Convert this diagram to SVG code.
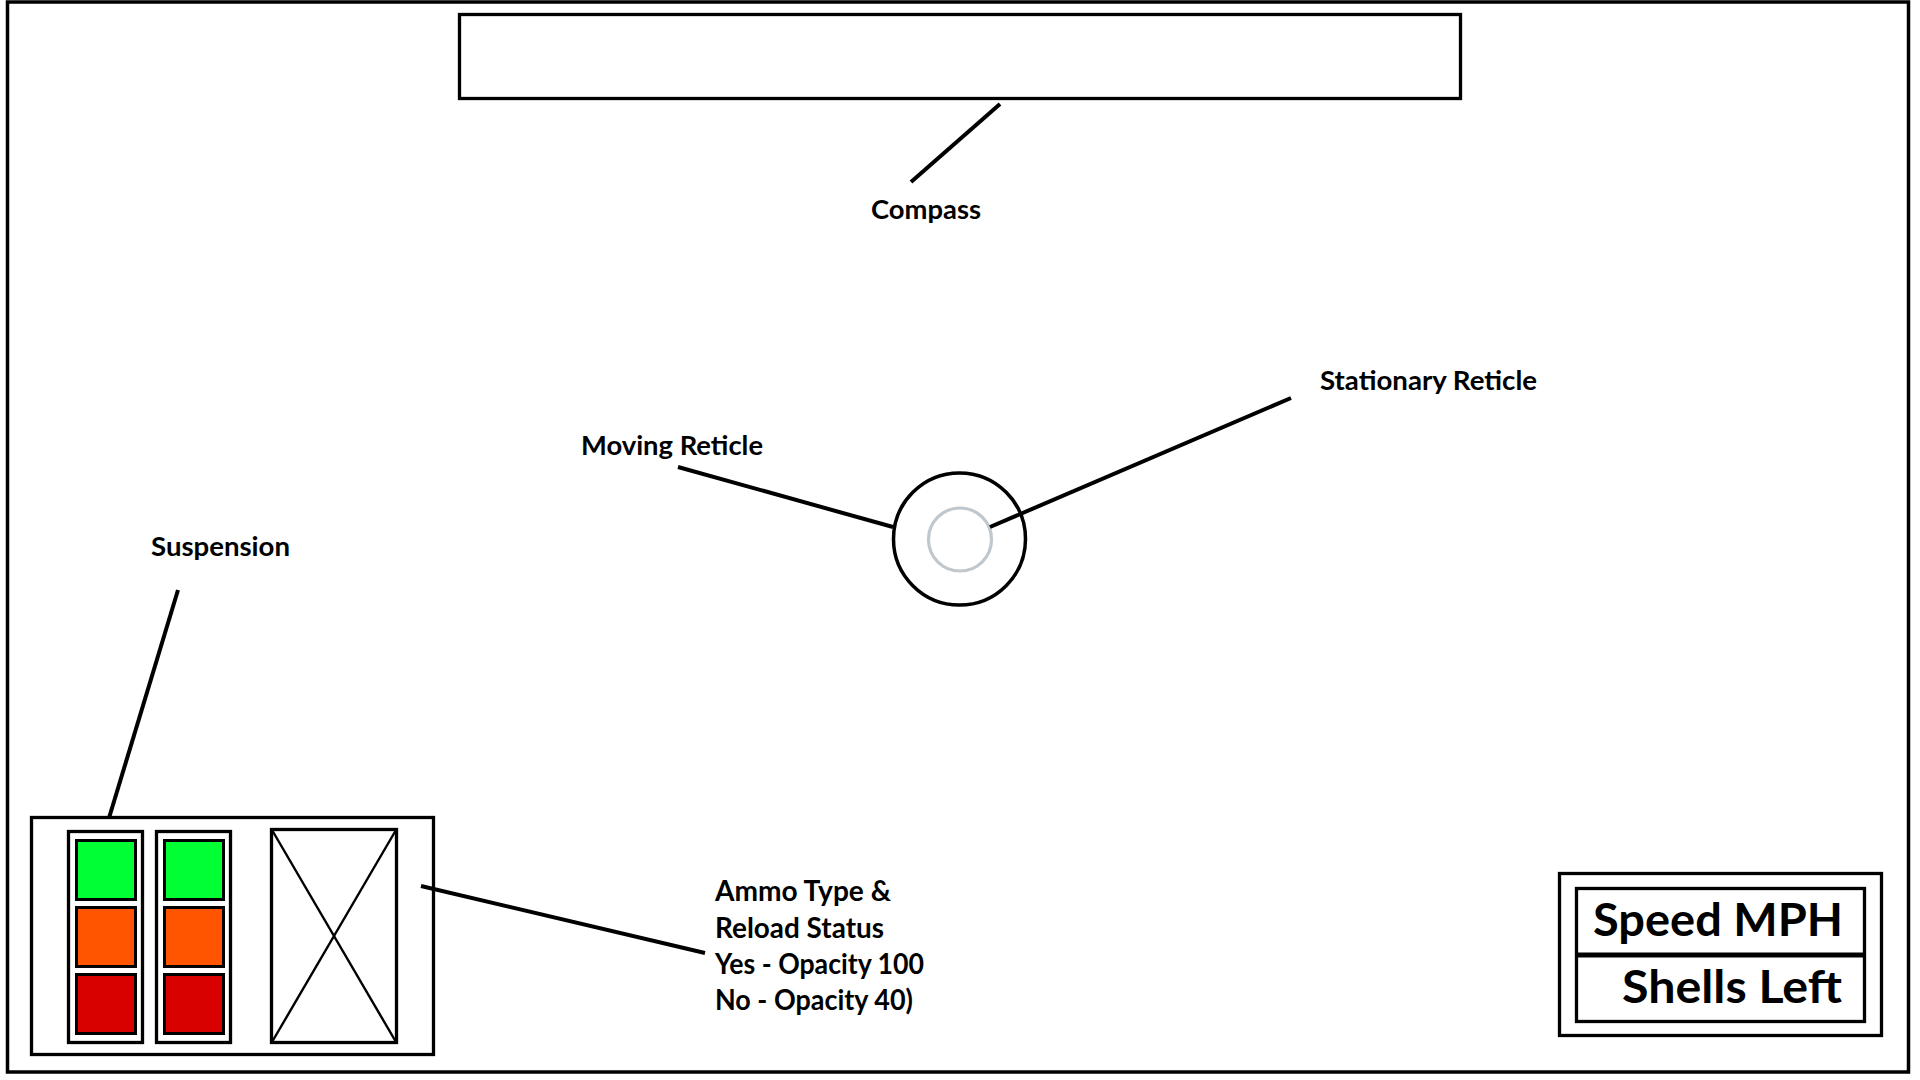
<svg xmlns="http://www.w3.org/2000/svg" width="1920" height="1080" viewBox="0 0 1920 1080">
<style>
.box{fill:none;stroke:#000;stroke-width:3.3}
.con{stroke:#000;stroke-width:4;fill:none;stroke-linecap:butt}
.lbl{font-family:Lato,"Open Sans","Liberation Sans",sans-serif;font-weight:bold;font-size:27px;fill:#000}
.ammo{font-family:Lato,"Open Sans","Liberation Sans",sans-serif;font-weight:bold;font-size:29px;fill:#000}
.big{font-family:Lato,"Open Sans","Liberation Sans",sans-serif;font-weight:bold;font-size:46px;fill:#000}
.g{fill:#00FF33;stroke:#000;stroke-width:3}
.o{fill:#FF5500;stroke:#000;stroke-width:3}
.r{fill:#D90000;stroke:#000;stroke-width:3}
</style>
<rect width="1920" height="1080" fill="#fff"/>
<rect id="frame" fill="none" stroke="#000" stroke-width="3.5" x="7.5" y="2" width="1901" height="1070"/>

<g id="compass">
<rect class="box" x="459.5" y="14.5" width="1001" height="84"/>
</g>

<g id="reticle">
<circle cx="959.5" cy="539" r="66" fill="none" stroke="#000" stroke-width="3.5"/>
<circle id="stationary-reticle" cx="960" cy="539.5" r="31.5" fill="none" stroke="#C0C8CE" stroke-width="3.2"/>
</g>

<g id="suspension">
<rect class="box" x="31.5" y="817.5" width="402" height="237"/>
<rect class="box" x="68.5" y="831.5" width="74" height="211"/>
<rect class="g" x="76.5" y="840.5" width="59" height="59"/>
<rect class="o" x="76.5" y="907.5" width="59" height="59"/>
<rect class="r" x="76.5" y="974.5" width="59" height="59"/>
<rect class="box" x="156.5" y="831.5" width="74" height="211"/>
<rect class="g" x="164.5" y="840.5" width="59" height="59"/>
<rect class="o" x="164.5" y="907.5" width="59" height="59"/>
<rect class="r" x="164.5" y="974.5" width="59" height="59"/>
</g>

<g id="ammo">
<rect class="box" x="271.5" y="829.5" width="125" height="213"/>
<line x1="272" y1="830" x2="396" y2="1042" stroke="#000" stroke-width="2.4"/>
<line x1="396" y1="830" x2="272" y2="1042" stroke="#000" stroke-width="2.4"/>
</g>

<g id="speed-shells">
<rect class="box" x="1559.5" y="873.5" width="322" height="162"/>
<rect class="box" x="1576.5" y="888.5" width="288" height="133"/>
<line x1="1576" y1="955" x2="1865" y2="955" stroke="#000" stroke-width="5"/>
<text class="big" x="1593" y="936" textLength="250" lengthAdjust="spacingAndGlyphs">Speed MPH</text>
<text class="big" x="1622" y="1003" textLength="220" lengthAdjust="spacingAndGlyphs">Shells Left</text>
</g>

<g id="connectors">
<line class="con" x1="1000" y1="104" x2="911" y2="182"/>
<line class="con" x1="990" y1="527" x2="1291" y2="398"/>
<line class="con" x1="678" y1="467" x2="893" y2="527"/>
<line class="con" x1="178" y1="590" x2="109" y2="818"/>
<line class="con" x1="421" y1="886" x2="705" y2="953"/>
</g>

<g id="labels">
<text class="lbl" x="871" y="219" textLength="110" lengthAdjust="spacingAndGlyphs">Compass</text>
<text class="lbl" x="1320" y="390" textLength="217" lengthAdjust="spacingAndGlyphs">Stationary Reticle</text>
<text class="lbl" x="581" y="455" textLength="182" lengthAdjust="spacingAndGlyphs">Moving Reticle</text>
<text class="lbl" x="151" y="556" textLength="139" lengthAdjust="spacingAndGlyphs">Suspension</text>
<text class="ammo" x="715" y="901" textLength="176" lengthAdjust="spacingAndGlyphs">Ammo Type &amp;</text>
<text class="ammo" x="715" y="938" textLength="169" lengthAdjust="spacingAndGlyphs">Reload Status</text>
<text class="ammo" x="715" y="974" textLength="209" lengthAdjust="spacingAndGlyphs">Yes - Opacity 100</text>
<text class="ammo" x="715" y="1010" textLength="198" lengthAdjust="spacingAndGlyphs">No - Opacity 40)</text>
</g>
</svg>
